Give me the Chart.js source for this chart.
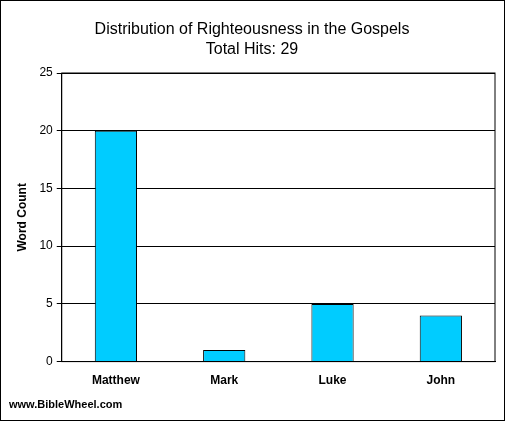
<!DOCTYPE html>
<html>
<head>
<script src="https://cdn.jsdelivr.net/npm/chart.js@4"></script>
<style>
  body { margin: 0; background: #fff; }
  #wrap { position: relative; width: 503px; height: 419px; border: 1px solid #000; }
  #credit { position: absolute; left: 8px; top: 397px; font: bold 11px "Liberation Sans", Arial, sans-serif; }
</style>
</head>
<body>
<div id="wrap">
  <canvas id="chart" width="503" height="419"></canvas>
  <div id="credit">www.BibleWheel.com</div>
</div>
<script>
const books = ['Matthew', 'Mark', 'Luke', 'John'];
const wordCounts = [20, 1, 5, 4];
const titleLines = ['Distribution of Righteousness in the Gospels', 'Total Hits: 29'];

const ctx = document.getElementById('chart');
new Chart(ctx, {
    type: 'bar',
    data: {
        labels: books,
        datasets: [{
            data: wordCounts,
            backgroundColor: '#00CCFF',
            borderColor: '#000',
            borderWidth: 1,
            barPercentage: 0.39,
            categoryPercentage: 1
        }]
    },
    options: {
        responsive: false,
        animation: false,
        layout: { padding: { left: 8, right: 9, top: 11, bottom: 20 } },
        plugins: {
            legend: { display: false },
            tooltip: { enabled: false },
            title: {
                display: true,
                text: titleLines,
                color: '#000',
                font: { family: 'Liberation Sans', size: 16, weight: 'normal', lineHeight: 1.25 },
                padding: { top: 8, bottom: 13 }
            }
        },
        scales: {
            x: {
                grid: { display: false, drawTicks: false },
                border: { color: '#000' },
                ticks: { color: '#000', font: { family: 'Liberation Sans', size: 12, weight: 'bold' }, padding: 12 }
            },
            y: {
                min: 0, max: 25,
                ticks: { stepSize: 5, color: '#000', font: { family: 'Liberation Sans', size: 12 }, padding: 4 },
                grid: { color: '#000', tickLength: 5 },
                border: { color: '#000' },
                title: { display: true, text: 'Word Count', color: '#000', font: { family: 'Liberation Sans', size: 12, weight: 'bold' }, padding: 6 }
            }
        }
    },
    plugins: [{
        id: 'frame',
        afterDraw(chart) {
            const a = chart.chartArea, c = chart.ctx;
            c.save();
            c.strokeStyle = '#000';
            c.lineWidth = 1;
            c.strokeRect(a.left, a.top, a.right - a.left, a.bottom - a.top);
            c.restore();
        }
    }]
});
</script>
</body>
</html>
